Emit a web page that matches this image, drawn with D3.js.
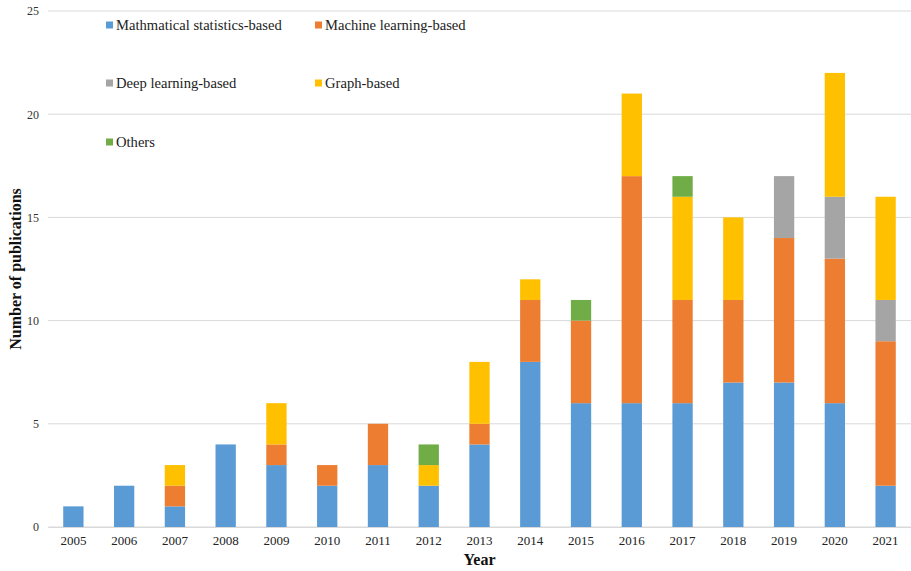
<!DOCTYPE html>
<html>
<head>
<meta charset="utf-8">
<script src="https://cdn.jsdelivr.net/npm/d3@7"></script>
<style>
  body { margin: 0; background: #fff; }
  svg { display: block; font-family: "Liberation Serif", "Times New Roman", serif; }
</style>
</head>
<body>
<svg id="chart" width="911" height="571"></svg>
<script>
// Publications per year, split by method family
const years = ["2005","2006","2007","2008","2009","2010","2011","2012","2013","2014","2015","2016","2017","2018","2019","2020","2021"];
const statistical = [1, 2, 1, 4, 3, 2, 3, 2, 4, 8, 6, 6, 6, 7, 7, 6, 2];
const machineLearning = [0, 0, 1, 0, 1, 1, 2, 0, 1, 3, 4, 11, 5, 4, 7, 7, 7];
const deepLearning = [0, 0, 0, 0, 0, 0, 0, 0, 0, 0, 0, 0, 0, 0, 3, 3, 2];
const graphBased = [0, 0, 1, 0, 2, 0, 0, 1, 3, 1, 0, 4, 5, 4, 0, 6, 5];
const others = [0, 0, 0, 0, 0, 0, 0, 1, 0, 0, 1, 0, 1, 0, 0, 0, 0];
const seriesNames = ["Mathmatical statistics-based", "Machine learning-based", "Deep learning-based", "Graph-based", "Others"];
const seriesColors = ["#5B9BD5", "#ED7D31", "#A5A5A5", "#FFC000", "#70AD47"];
const yTicks = [0, 5, 10, 15, 20, 25];

const seriesValues = [statistical, machineLearning, deepLearning, graphBased, others];
const keys = seriesNames;
const rows = years.map((y, i) => {
  const r = { year: y };
  keys.forEach((k, j) => { r[k] = seriesValues[j][i]; });
  return r;
});

const svg = d3.select("#chart");
const margin = { left: 48, right: 0, top: 11, bottom: 44 };
const W = 911, H = 571;

const x = d3.scaleBand().domain(years).range([margin.left, W - margin.right]).paddingInner(0.6).paddingOuter(0.3);
const y = d3.scaleLinear().domain([0, 25]).range([H - margin.bottom, margin.top]);

// horizontal gridlines
svg.append("g").selectAll("line").data(yTicks).join("line")
  .attr("x1", margin.left).attr("x2", W - margin.right)
  .attr("y1", d => y(d)).attr("y2", d => y(d))
  .attr("stroke", "#D9D9D9").attr("stroke-width", 1);

// stacked bars
const stack = d3.stack().keys(keys)(rows);
svg.append("g").selectAll("g").data(stack).join("g")
  .attr("fill", (d, i) => seriesColors[i])
  .selectAll("rect").data(d => d.filter(s => s[1] > s[0])).join("rect")
  .attr("x", d => x(d.data.year))
  .attr("width", x.bandwidth())
  .attr("y", d => y(d[1]))
  .attr("height", d => y(d[0]) - y(d[1]));

// y axis labels
const yAxis = d3.axisLeft(y).tickValues(yTicks).tickSize(0).tickPadding(9);
const gy = svg.append("g").attr("transform", `translate(${margin.left},0)`).call(yAxis);
gy.select(".domain").remove();
gy.selectAll("text").attr("font-family", "Liberation Serif, serif").attr("font-size", 12).attr("fill", "#333");

// x axis labels
const xAxis = d3.axisBottom(x).tickSize(0).tickPadding(9);
const gx = svg.append("g").attr("transform", `translate(0,${H - margin.bottom})`).call(xAxis);
gx.select(".domain").attr("stroke", "#D9D9D9");
gx.selectAll("text").attr("font-family", "Liberation Serif, serif").attr("font-size", 13).attr("fill", "#222");

// axis titles
svg.append("text")
  .attr("x", (margin.left + W - margin.right) / 2).attr("y", 565)
  .attr("text-anchor", "middle").attr("font-size", 16).attr("font-weight", "bold").attr("fill", "#111")
  .text("Year");
svg.append("text")
  .attr("transform", `translate(21,${(y(0) + y(25)) / 2}) rotate(-90)`)
  .attr("text-anchor", "middle").attr("font-size", 16).attr("font-weight", "bold").attr("fill", "#111")
  .text("Number of publications");

// legend
const legendPos = [[106, 25], [315, 25], [106, 83], [315, 83], [106, 142]];
const lg = svg.append("g").selectAll("g").data(seriesNames).join("g")
  .attr("transform", (d, i) => `translate(${legendPos[i][0]},${legendPos[i][1]})`);
lg.append("rect").attr("x", 0).attr("y", -3.5).attr("width", 7).attr("height", 7)
  .attr("fill", (d, i) => seriesColors[i]);
lg.append("text").attr("x", 10).attr("y", 0).attr("dy", "0.35em")
  .attr("font-size", 14.6).attr("fill", "#222").text(d => d);
</script>
</body>
</html>
